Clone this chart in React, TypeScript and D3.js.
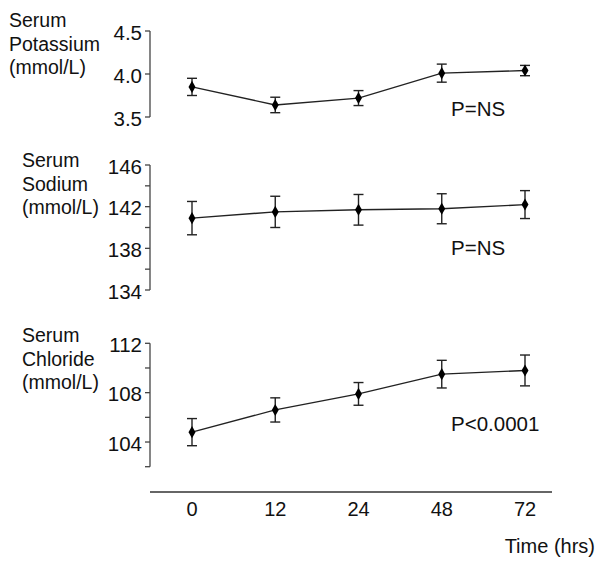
import React from "react";
import * as d3 from "d3";

const timeLabels = ["0", "12", "24", "48", "72"];
const potassiumMean = [3.85, 3.64, 3.72, 4.01, 4.04];
const potassiumErr = [0.1, 0.09, 0.087, 0.105, 0.06];
const sodiumMean = [140.9, 141.5, 141.7, 141.8, 142.2];
const sodiumErr = [1.6, 1.5, 1.47, 1.44, 1.34];
const chlorideMean = [104.8, 106.6, 107.9, 109.5, 109.8];
const chlorideErr = [1.1, 0.98, 0.92, 1.12, 1.25];
const potassiumTicks = [3.5, 4.0, 4.5];
const sodiumTicks = [134, 138, 142, 146];
const sodiumMinor = [136, 140, 144];
const chlorideTicks = [104, 108, 112];
const chlorideMinor = [102, 106, 110];
const labelLines = [
  ["Serum", "Potassium", "(mmol/L)"],
  ["Serum", "Sodium", "(mmol/L)"],
  ["Serum", "Chloride", "(mmol/L)"],
];
const pTexts = ["P=NS", "P=NS", "P<0.0001"];

const FONT = "'Liberation Sans', Arial, sans-serif";

const x = d3.scalePoint<string>().domain(timeLabels).range([192, 525]);

type PanelCfg = {
  mean: number[];
  err: number[];
  domain: [number, number];
  range: [number, number];
  ticks: number[];
  minor: number[];
  fmt: (v: number) => string;
  labels: string[];
  labelX: number;
  labelY: number;
  pText: string;
  pY: number;
};

const panels: PanelCfg[] = [
  {
    mean: potassiumMean, err: potassiumErr, domain: [3.5, 4.5], range: [117, 31],
    ticks: potassiumTicks, minor: [], fmt: d3.format(".1f"), labels: labelLines[0],
    labelX: 9, labelY: 20, pText: pTexts[0], pY: 108,
  },
  {
    mean: sodiumMean, err: sodiumErr, domain: [134, 146], range: [290, 165],
    ticks: sodiumTicks, minor: sodiumMinor, fmt: d3.format("d"), labels: labelLines[1],
    labelX: 22, labelY: 160, pText: pTexts[1], pY: 247,
  },
  {
    mean: chlorideMean, err: chlorideErr, domain: [102, 112], range: [466.7, 343.3],
    ticks: chlorideTicks, minor: chlorideMinor, fmt: d3.format("d"), labels: labelLines[2],
    labelX: 22, labelY: 335, pText: pTexts[2], pY: 423,
  },
];

const AXIS_X = 150;
const diamond = d3.symbol().type(d3.symbolDiamond).size(42)() as string;

function Panel({ cfg }: { cfg: PanelCfg }) {
  const y = d3.scaleLinear().domain(cfg.domain).range(cfg.range);
  const line = d3
    .line<number>()
    .x((_, i) => x(timeLabels[i]) as number)
    .y((d) => y(d));
  return (
    <g>
      {cfg.labels.map((t, i) => (
        <text key={t + i} x={cfg.labelX} y={cfg.labelY + i * 23.5} dominantBaseline="central"
          fontSize={19.5} fontFamily={FONT} fill="#111">{t}</text>
      ))}
      <line x1={AXIS_X} x2={AXIS_X} y1={y(cfg.domain[0])} y2={y(cfg.domain[1])} stroke="#444" strokeWidth={1.3} />
      {cfg.ticks.map((t) => (
        <g key={"t" + t}>
          <line x1={AXIS_X - 5} x2={AXIS_X} y1={y(t)} y2={y(t)} stroke="#444" strokeWidth={1.3} />
          <text x={142} y={y(t) + 1} textAnchor="end" dominantBaseline="central" fontSize={20.5}
            fontFamily={FONT} fill="#111">{cfg.fmt(t)}</text>
        </g>
      ))}
      {cfg.minor.map((t) => (
        <line key={"m" + t} x1={AXIS_X - 5} x2={AXIS_X} y1={y(t)} y2={y(t)} stroke="#444" strokeWidth={1.3} />
      ))}
      <path d={line(cfg.mean) || ""} fill="none" stroke="#222" strokeWidth={1.4} />
      {cfg.mean.map((m, i) => {
        const cx = x(timeLabels[i]) as number;
        const top = y(m + cfg.err[i]);
        const bot = y(m - cfg.err[i]);
        return (
          <g key={"p" + i}>
            <line x1={cx} x2={cx} y1={top} y2={bot} stroke="#222" strokeWidth={1.4} />
            <line x1={cx - 5} x2={cx + 5} y1={top} y2={top} stroke="#222" strokeWidth={1.4} />
            <line x1={cx - 5} x2={cx + 5} y1={bot} y2={bot} stroke="#222" strokeWidth={1.4} />
            <path d={diamond} transform={`translate(${cx},${y(m)})`} fill="#000" />
          </g>
        );
      })}
      <text x={451} y={cfg.pY} dominantBaseline="central" fontSize={20.5} fontFamily={FONT} fill="#111">
        {cfg.pText}
      </text>
    </g>
  );
}

export default function App() {
  return (
    <div style={{ position: "absolute", left: 0, top: 0 }}>
      <svg width={600} height={564} style={{ display: "block", background: "#fff" }}>
        {panels.map((p, i) => (
          <Panel key={i} cfg={p} />
        ))}
        <line x1={150} x2={552} y1={492} y2={492} stroke="#333" strokeWidth={1.3} />
        {timeLabels.map((t) => (
          <text key={t} x={x(t) as number} y={509} textAnchor="middle" dominantBaseline="central"
            fontSize={20} fontFamily={FONT} fill="#111">{t}</text>
        ))}
        <text x={595} y={546} textAnchor="end" dominantBaseline="central" fontSize={20} fontFamily={FONT} fill="#111">
          Time (hrs)
        </text>
      </svg>
    </div>
  );
}
